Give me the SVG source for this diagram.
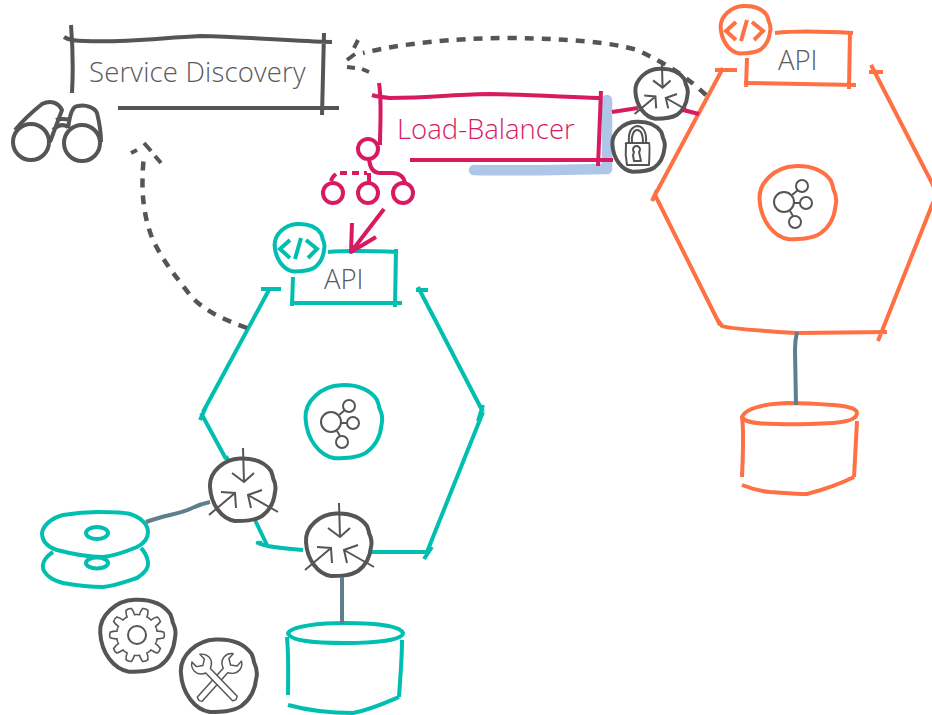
<svg xmlns="http://www.w3.org/2000/svg" width="932" height="715" viewBox="0 0 932 715">
<style>
.s{fill:none;stroke-linecap:butt;stroke-linejoin:round}
.g{stroke:#555;stroke-width:4}
.p{stroke:#d81b60;stroke-width:4}
.t{stroke:#01bfb0;stroke-width:4}
.o{stroke:#ff7043;stroke-width:4}
.b{stroke:#5f7f8e;stroke-width:4}
.d{stroke:#555;stroke-width:4.5;stroke-dasharray:9 8}
.w{fill:#fff;stroke-linejoin:round}
.thin{fill:none;stroke:#555;stroke-width:2;stroke-linejoin:round}
.thinw{fill:#fff;stroke:#555;stroke-width:1.6;stroke-linejoin:round}
text{font-family:"Open Sans","Liberation Sans",sans-serif;font-weight:300;font-size:27.5px;fill:#5a5a5a}
</style>
<defs>
<path id="blob" vector-effect="non-scaling-stroke" d="M-32,-3C-33,-18 -18,-31 -2,-31.5C10,-32 22,-29 29,-19C30,-16 31,-14 31,-12C34,-6 34,-2 33,2C32,12 27,21 20,26C12,31 2,31 -7,31C-20,29 -31,15 -32,-3Z"/>
<g id="arrows">
<path d="M1,-42L2,-8M-10,-17L2,-8L12,-17M-33,25L-7,3M-21,2L-7,3L-6,18M36,22L6,5M20,0L6,5L9,18" fill="none" stroke="#555" stroke-width="2" vector-effect="non-scaling-stroke"/>
</g>
<g id="code" fill="none" stroke-width="4">
<path d="M-9,-8L-19,1L-9,10M2,-10L-4,11M7,-8L18,1L9,10"/>
</g>
<g id="net" class="thin">
<circle cx="-12" cy="-1" r="10"/><circle cx="6" cy="-17" r="6"/><circle cx="10" cy="0" r="6"/><circle cx="-1" cy="19" r="6"/>
<path d="M-4,-8L2,-13M-2,0L4,0M-6,8L-3,13"/>
</g>
<path id="tooth" d="M19.5,-6.33Q20,-5 20.1,-3.91Q24,-4 26.85,-2.82Q28,0 26.85,2.82Q24,4 20.1,3.91Q20,5 19.5,6.33" fill="none" stroke="#555" stroke-width="1.6"/>
<path id="wrench" class="thinw" d="M-3.5,28L-3.5,-14C-8,-16 -11,-20 -11,-24C-11,-28 -9,-31 -6,-33L-6,-26L0,-22L6,-26L6,-33C9,-31 11,-28 11,-24C11,-20 8,-16 3.5,-14L3.5,28Q0,31 -3.5,28Z"/>
</defs>

<g id="hexagon-teal" class="s t">
<path d="M261,289H281M270,288L203,412M200,420L206,407M201,413L226,459M256,522L226,456M262,543Q254,542 261,544Q266,547 303,550M370,552H430M416,290H428M418,287L483,412M483,405L478,421M483,412L427,552M432,547L424,559M255,520L267,545"/>
</g>
<g id="hexagon-orange" class="s o">
<path d="M715,70H737M723,68L655,195M652,201L657,190M655,195L720,325M717,319L722,326Q730,329 797,333L887,332M869,72H883M871,65L932,183Q938,195 932,205L878,341"/>
</g>

<g id="service-discovery">
<path class="s g" d="M64,37Q70,41 85,41C120,43 160,38 200,36C250,37 290,41 332,42M71,25C73,50 73,75 72,93M324,33L322,115M118,108L339,108"/>
<text x="89" y="82" style="letter-spacing:.18px">Service Discovery</text>
</g>
<g id="binoculars" class="s g">
<circle cx="31" cy="142" r="18"/><circle cx="82" cy="143" r="18"/>
<path d="M15,130C25,118 32,112 42,104C50,100 58,102 62,110L50,142M68,128C70,115 72,106 78,106C86,104 95,108 97,113C100,125 101,135 101,142M53,130Q61,122 68,127M56,120Q62,118 70,120"/>
</g>

<g id="load-balancer">
<path d="M474,170Q520,171 607,169V100" fill="none" stroke="#aec6e8" stroke-width="10.5" stroke-linecap="round" stroke-linejoin="round"/>
<path class="s p" d="M372,95Q378,97 390,98C430,98 460,94 490,94C530,95 570,97 602,98M379,83C382,100 380,125 380,145M601,91L598,166M410,160H613"/>
<text x="397" y="139" style="fill:#d81b60">Load-Balancer</text>
</g>
<g id="balancer-tree" class="s p">
<circle cx="368" cy="149" r="10"/><circle cx="333" cy="193" r="10"/><circle cx="368" cy="193" r="10"/><circle cx="403" cy="193" r="10"/>
<path d="M369,158Q370,173 380,173H392Q403,173 405,183M369,173V183M331,181Q332,177 336,174"/>
<path d="M340,173H367" stroke-dasharray="7 5"/>
</g>

<g id="api-teal">
<path class="s t" d="M328,252Q350,250 398,252M396,249L395,307M290,303H402M293,277L292,306"/>
<use href="#blob" class="w" stroke="#01bfb0" stroke-width="4" transform="translate(299,248) scale(.76)"/>
<use href="#code" stroke="#01bfb0" transform="translate(299,248)"/>
<text x="324" y="289">API</text>
</g>
<g id="api-orange">
<path class="s o" d="M775,33Q800,30 853,33M850,31L849,89M744,83Q800,84 856,85M747,58L746,87"/>
<use href="#blob" class="w" stroke="#ff7043" stroke-width="4" transform="translate(745,30) scale(.76)"/>
<use href="#code" stroke="#ff7043" transform="translate(745,30)"/>
<text x="778" y="70">API</text>
</g>

<g id="service-teal">
<use href="#blob" class="w" stroke="#01bfb0" stroke-width="4" transform="translate(343,422) scale(1.17)"/>
<use href="#net" transform="translate(343,423)"/>
</g>
<g id="service-orange">
<use href="#blob" class="w" stroke="#ff7043" stroke-width="4" transform="translate(797,203) scale(1.17)"/>
<use href="#net" transform="translate(796,203)"/>
</g>

<g id="router-a">
<use href="#blob" class="w" stroke="#555" stroke-width="4" transform="translate(242,490)"/>
<use href="#arrows" transform="translate(242,490)"/>
</g>
<g id="router-b">
<use href="#blob" class="w" stroke="#555" stroke-width="4" transform="translate(338,545)"/>
<use href="#arrows" transform="translate(338,545)"/>
</g>
<g id="router-c">
<use href="#blob" class="w" stroke="#555" stroke-width="4" transform="translate(661,94) scale(.8)"/>
<use href="#arrows" transform="translate(661,94) scale(.8)"/>
</g>
<g id="lock">
<use href="#blob" class="w" stroke="#555" stroke-width="4" transform="translate(638,147) scale(.8)"/>
<path class="thin" stroke-width="1.6" d="M626,144Q625,143 627,143L649,143Q650,144 649,165L627,165Q625,155 626,144ZM629,143C628,132 632,127 637,126C643,126 647,132 646,143M632,143C631,135 634,130 637,130C641,130 643,135 643,143M633,155L634,152A3.5,3.5 0 1 1 639,152L641,161H634Z"/>
</g>

<g id="disks">
<path class="s t" d="M53,552C44,558 41,565 44,571C48,578 55,581 63,583C80,586 95,587 103,587C115,586 128,581 137,578C145,573 149,568 148,562C147,556 145,552 141,548"/>
<ellipse class="s t" cx="97" cy="563" rx="11" ry="5.5"/>
<path class="s t" d="M42,533C43,525 52,518 63,515C75,513 87,512 98,512C110,512 122,512 130,514C140,517 148,524 148,532C148,540 143,544 137,547C125,552 113,556 103,557C90,557 72,554 57,550C48,547 42,541 42,533Z"/>
<ellipse class="s t" cx="97" cy="533" rx="11" ry="6"/>
</g>
<g id="gear">
<use href="#blob" class="w" stroke="#555" stroke-width="4" transform="translate(137,636) scale(1.15)"/>
<circle cx="137" cy="635" r="9" class="thin"/>
<g transform="translate(137,635)">
<use href="#tooth"/><use href="#tooth" transform="rotate(36)"/><use href="#tooth" transform="rotate(72)"/><use href="#tooth" transform="rotate(108)"/><use href="#tooth" transform="rotate(144)"/><use href="#tooth" transform="rotate(180)"/><use href="#tooth" transform="rotate(216)"/><use href="#tooth" transform="rotate(252)"/><use href="#tooth" transform="rotate(288)"/><use href="#tooth" transform="rotate(324)"/>
</g>
</g>
<g id="tools">
<use href="#blob" class="w" stroke="#555" stroke-width="4" transform="translate(218,676) scale(1.16)"/>
<use href="#wrench" transform="translate(217,680) rotate(42) scale(.92)"/>
<use href="#wrench" transform="translate(217,680) rotate(-44) scale(.92)"/>
</g>

<g id="db-teal" class="s t">
<path d="M288,633C292,626 320,623 345,623C370,623 400,625 403,633C403,640 375,643 345,643C315,643 290,641 288,633ZM287,637C289,660 288,680 288,695M402,640C402,660 400,680 399,697M288,705C310,711 330,713 353,713C370,710 385,703 399,697"/>
</g>
<g id="db-orange" class="s o">
<path d="M742,417C746,408 765,404 787,403C805,403 820,404 833,405C848,406 857,409 857,413C857,419 846,422 833,423C815,424 795,425 777,424C760,424 745,423 742,417ZM742,418C744,430 743,455 742,477M857,421C856,440 855,460 854,477M742,485C752,489 760,491 770,492C785,493 795,494 807,494C822,490 840,484 854,477"/>
</g>

<g id="connectors">
<path class="s b" d="M146,522C165,515 180,514 190,509Q200,504 210,502M342,577V624M797,332Q795,340 795,350L796,405"/>
<path class="s p" d="M612,112L638,108M683,110L699,114M384,209L351,252M352,223L351,252L376,237"/>
<path class="s d" d="M247,328C225,320 205,312 190,295C175,275 160,258 151,235C142,210 141,185 144,155"/>
<path class="s g" d="M131,153L137,150M144,143L151,151M155,156L161,163"/>
<path class="s d" d="M706,95C690,80 670,65 637,50C610,42 570,39 513,38C450,38 400,44 363,53"/>
<path class="s g" d="M358,40L354,48M355,54L347,60M347,67L355,68M362,69L369,72"/>
</g>
</svg>
